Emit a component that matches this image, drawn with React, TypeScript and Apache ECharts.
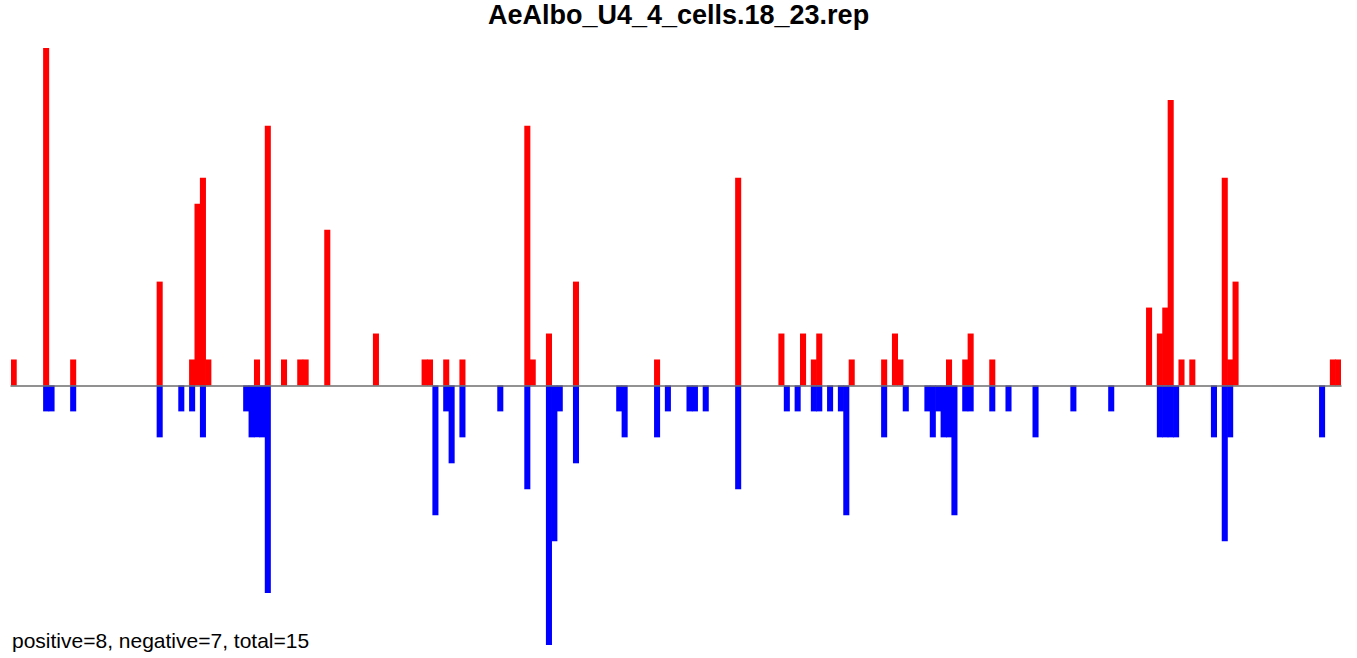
import React, { useEffect, useRef } from "react";
import * as echarts from "echarts";

const TITLE = "AeAlbo_U4_4_cells.18_23.rep";
const FOOTER = "positive=8, negative=7, total=15";
const BIN_COUNT = 246;

// positive (red) bars: bin index and height
const posBins = [0, 6, 11, 27, 33, 34, 35, 36, 45, 47, 50, 53, 54, 58, 67, 76, 77, 80, 83, 95, 96, 99, 104, 119, 134, 142, 146, 148, 149, 155, 161, 163, 164, 173, 176, 177, 181, 210, 212, 213, 214, 216, 218, 224, 225, 226, 244, 245];
const posVals = [1, 13, 1, 4, 1, 7, 8, 1, 1, 10, 1, 1, 1, 6, 2, 1, 1, 1, 1, 10, 1, 2, 4, 1, 8, 2, 2, 1, 2, 1, 1, 2, 1, 1, 1, 2, 1, 3, 2, 3, 11, 1, 1, 8, 1, 4, 1, 1];

// negative (blue) bars: bin index and height
const negBins = [6, 7, 11, 27, 31, 33, 35, 43, 44, 45, 46, 47, 78, 80, 81, 83, 90, 95, 99, 100, 101, 104, 112, 113, 119, 121, 125, 126, 128, 134, 143, 145, 148, 149, 151, 153, 154, 161, 165, 169, 170, 171, 172, 173, 174, 176, 177, 181, 184, 189, 196, 203, 212, 213, 214, 215, 222, 224, 225, 242];
const negVals = [-1, -1, -1, -2, -1, -1, -2, -1, -2, -2, -2, -8, -5, -1, -3, -2, -1, -4, -10, -6, -1, -3, -1, -2, -2, -1, -1, -1, -1, -4, -1, -1, -1, -1, -1, -1, -5, -2, -1, -1, -2, -1, -2, -2, -5, -1, -1, -1, -1, -2, -1, -1, -2, -2, -2, -2, -2, -6, -2, -2];

const Y_MIN = -10;
const Y_MAX = 13;

function buildSeries(bins: number[], vals: number[]) {
  const arr: (number | null)[] = new Array(BIN_COUNT).fill(null);
  bins.forEach((b, i) => {
    arr[b] = vals[i];
  });
  return arr;
}

export default function App() {
  const ref = useRef<HTMLDivElement>(null);
  useEffect(() => {
    if (!ref.current) return;
    const chart = echarts.init(ref.current, undefined, { renderer: "svg" });
    const categories = Array.from({ length: BIN_COUNT }, (_, i) => String(i));
    chart.setOption({
      animation: false,
      backgroundColor: "#ffffff",
      grid: { left: 11, right: 16, top: 48, bottom: 13, containLabel: false },
      xAxis: {
        type: "category",
        data: categories,
        boundaryGap: true,
        z: 10,
        axisLine: { show: true, onZero: true, lineStyle: { color: "#6e6e6e", width: 1.5 } },
        axisTick: { show: false },
        axisLabel: { show: false },
        splitLine: { show: false },
      },
      yAxis: {
        type: "value",
        min: Y_MIN,
        max: Y_MAX,
        show: false,
        splitLine: { show: false },
      },
      series: [
        {
          type: "bar",
          data: buildSeries(posBins, posVals),
          barWidth: "112%",
          barGap: "-100%",
          itemStyle: { color: "#ff0000" },
        },
        {
          type: "bar",
          data: buildSeries(negBins, negVals),
          barWidth: "112%",
          barGap: "-100%",
          itemStyle: { color: "#0000ff" },
        },
      ],
      graphic: [
        {
          type: "text",
          x: 678.5,
          y: 15,
          style: {
            text: TITLE,
            font: "bold 27px 'Liberation Sans', Arial, sans-serif",
            fill: "#000000",
            textAlign: "center",
            textVerticalAlign: "middle",
          },
        },
        {
          type: "text",
          x: 12,
          y: 640,
          style: {
            text: FOOTER,
            font: "21px 'Liberation Sans', Arial, sans-serif",
            fill: "#000000",
            textAlign: "left",
            textVerticalAlign: "middle",
          },
        },
      ],
    });
    return () => chart.dispose();
  }, []);
  return (
    <div
      ref={ref}
      style={{ position: "fixed", left: 0, top: 0, width: 1357, height: 658, background: "#fff" }}
    />
  );
}
